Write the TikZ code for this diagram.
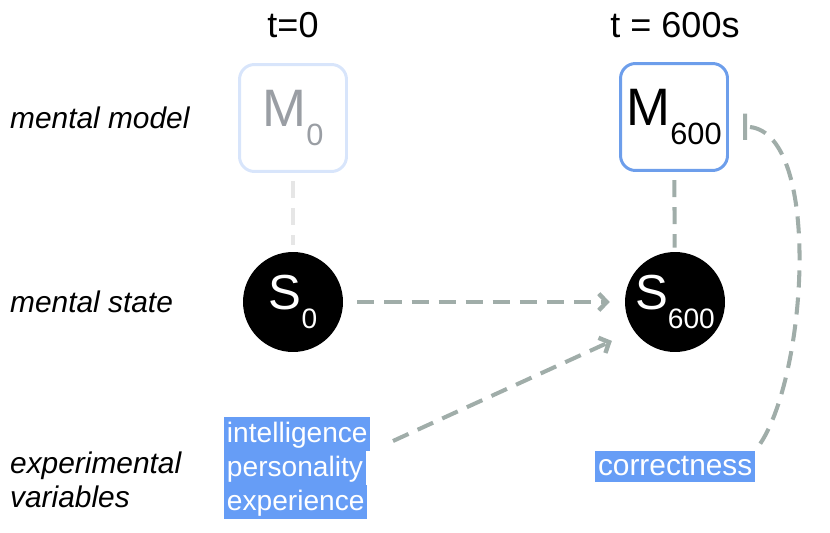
\documentclass[tikz,border=0pt]{standalone}
\usepackage{fontspec}
\setmainfont{Liberation Sans}
\usetikzlibrary{arrows.meta,positioning}

\definecolor{boxpale}{HTML}{D8E5FB}
\definecolor{boxblue}{HTML}{6D9EEB}
\definecolor{txtgray}{HTML}{9A9EA4}
\definecolor{linkgray}{HTML}{A0ADA9}
\definecolor{linkpale}{HTML}{E6E6E6}
\definecolor{hlblue}{HTML}{669DF6}

\newcommand{\subtxt}[2][16]{\raisebox{-0.37em}{\fontsize{#1}{#1}\selectfont #2}}

\tikzset{
  modelbox/.style={draw, rounded corners=0.3cm, line width=1.7pt,
    minimum width=2.14cm, minimum height=2.14cm, inner sep=0pt,
    font=\fontsize{30}{30}\selectfont},
  statecirc/.style={circle, fill=black, text=white, minimum size=2cm, inner sep=0pt,
    font=\fontsize{28}{28}\selectfont},
  rowlabel/.style={anchor=west, align=left, font=\fontsize{17}{19.5}\selectfont\itshape},
  hl/.style={fill=hlblue, text=white, inner xsep=1.5pt, inner ysep=0pt,
    text height=14.5pt, text depth=4.8pt, font=\fontsize{16}{19}\selectfont},
  link/.style={linkgray, line width=2.3pt, dash pattern=on 9.7pt off 5.7pt},
  flow/.style={link, -{Straight Barb[length=4.5pt,width=9.5pt,line width=2.5pt]}},
}

\begin{document}
\begin{tikzpicture}[x=0.02cm, y=-0.02cm]
    \useasboundingbox (0,0) rectangle (830,533);

    % Time headers
    \node[font=\fontsize{20.5}{20.5}\selectfont] (t0) at (293,25) {t=0};
    \node[font=\fontsize{20.5}{20.5}\selectfont] (t600) at (675,25) {t = 600s};

    % Row labels
    \node[rowlabel] (lmodel) at (4,118) {mental model};
    \node[rowlabel] (lstate) at (4,302) {mental state};
    \node[rowlabel] (lvars) at (4,480) {experimental\\variables};

    % Mental models
    \node[modelbox, draw=boxpale, text=txtgray] (m0) at (293,118) {M\subtxt[17.5]{0}};
    \node[modelbox, draw=boxblue] (m600) at (674,117) {M\subtxt[17.5]{600}};

    % Mental states
    \node[statecirc] (s0) at (293,302) {S\subtxt{0}};
    \node[statecirc] (s600) at (675,302) {S\subtxt{600}};

    % Experimental variables
    \node[hl, anchor=north west] (intel) at (224,417) {intelligence};
    \node[hl, anchor=north west] (pers) at ([yshift=0.4pt]intel.south west) {personality};
    \node[hl, anchor=north west] (exper) at ([yshift=0.4pt]pers.south west) {experience};
    \node[hl, anchor=north west, font=\fontsize{17}{19}\selectfont,
      text height=13.5pt, text depth=4pt] (corr) at (595,451) {correctness};
    \coordinate (vout) at (393,441);

    % Links
    \draw[link, linkpale, shorten <=4.6pt, shorten >=4pt] (m0) -- (s0);
    \draw[link, shorten <=4.6pt, shorten >=2.3pt] (m600) -- (s600);
    \draw[flow, shorten <=8pt, shorten >=8.5pt] (s0) -- (s600);
    \draw[flow, shorten >=13.7pt] (vout) -- (s600.215);
    \draw[link, shorten <=5pt, shorten >=8pt, -{Bar[width=15pt,line width=2.3pt]}]
      (corr.north east) .. controls (808,372) and (822,127) .. (m600.-10);
\end{tikzpicture}
\end{document}
